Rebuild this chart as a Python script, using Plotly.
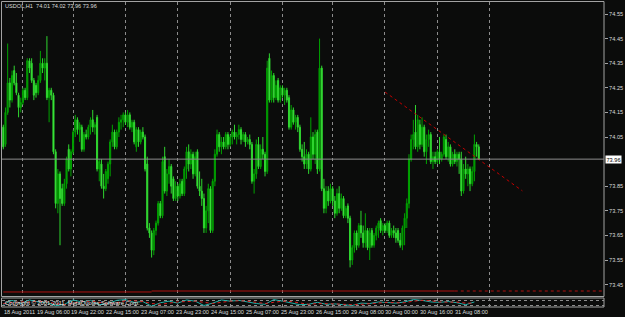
import plotly.graph_objects as go

W, H = 625, 317

title_text = "USDOL,H1  74.01 74.02 73.96 73.96"
copyright_text = "Copyright \u00a9 2001-2011, MetaQuotes Software Corp."

opens = [
    74.09, 74.02, 74.15, 74.27, 74.20, 74.32, 74.27, 74.22, 74.17, 74.19,
    74.24, 74.21, 74.36, 74.35, 74.28, 74.26, 74.23, 74.28, 74.35, 74.33,
    74.35, 74.21, 74.24, 74.22, 73.99, 73.78, 73.90, 73.84, 73.78, 73.86,
    74.00, 73.92, 73.99, 74.07, 74.12, 74.08, 74.09, 74.00, 74.06, 74.05,
    74.09, 74.12, 74.09, 74.13, 73.92, 73.94, 73.85, 73.84, 73.88, 73.94,
    74.03, 74.07, 74.01, 74.07, 74.11, 74.12, 74.14, 74.11, 74.14, 74.09,
    74.11, 74.01, 74.08, 74.03, 74.07, 74.05, 73.94, 73.68, 73.66, 73.59,
    73.67, 73.70, 73.78, 73.73, 73.97, 73.83, 73.90, 73.93, 73.88, 73.80,
    73.85, 73.81, 73.87, 73.82, 73.92, 73.99, 73.94, 73.98, 73.90, 73.99,
    73.85, 73.83, 73.80, 73.68, 73.75, 73.84, 73.67, 73.87, 73.98, 74.06,
    74.01, 74.03, 74.01, 74.06, 74.02, 74.05, 74.07, 74.05, 74.06, 74.08,
    74.04, 74.06, 74.03, 74.04, 74.02, 73.87, 73.90, 74.02, 73.93, 74.00,
    73.98, 73.91, 74.37, 74.20, 74.30, 74.21, 74.28, 74.20, 74.25, 74.22,
    74.24, 74.21, 74.09, 74.16, 74.11, 74.13, 74.09, 74.00, 73.97, 73.94,
    73.98, 73.92, 74.05, 73.98, 74.07, 73.92, 74.33, 73.84, 73.76, 73.83,
    73.79, 73.84, 73.79, 73.74, 73.82, 73.76, 73.80, 73.73, 73.77, 73.72,
    73.55, 73.60, 73.66, 73.61, 73.69, 73.66, 73.62, 73.67, 73.60, 73.67,
    73.61, 73.65, 73.68, 73.71, 73.67, 73.69, 73.67, 73.70, 73.65, 73.67,
    73.66, 73.67, 73.63, 73.61, 73.68, 73.72, 73.78, 73.96, 74.04, 74.07,
    74.01, 74.10, 74.02, 74.09, 73.99, 74.04, 74.06, 73.95, 73.97, 73.95,
    73.99, 73.96, 73.98, 74.04, 73.97, 74.01, 73.94, 73.98, 73.95, 73.98,
    73.96, 73.83, 73.92, 73.90, 73.92, 73.86, 73.91, 74.02, 74.01,
]
highs = [
    74.10, 74.17, 74.43, 74.29, 74.32, 74.34, 74.31, 74.23, 74.21, 74.25,
    74.25, 74.37, 74.37, 74.37, 74.29, 74.27, 74.30, 74.40, 74.37, 74.37,
    74.46, 74.25, 74.25, 74.23, 74.00, 73.92, 73.91, 73.86, 73.88, 73.97,
    74.02, 74.00, 74.08, 74.14, 74.13, 74.11, 74.10, 74.07, 74.08, 74.10,
    74.13, 74.16, 74.11, 74.14, 73.96, 73.96, 73.90, 73.92, 73.95, 74.04,
    74.10, 74.08, 74.08, 74.13, 74.14, 74.15, 74.15, 74.16, 74.15, 74.12,
    74.12, 74.09, 74.09, 74.08, 74.09, 74.06, 73.97, 73.70, 73.67, 73.68,
    73.71, 73.79, 73.79, 73.97, 74.01, 73.92, 73.96, 73.94, 73.89, 73.87,
    73.86, 73.88, 73.88, 73.93, 74.01, 74.02, 74.00, 73.99, 73.99, 74.00,
    73.91, 73.88, 73.82, 73.77, 73.86, 73.85, 73.88, 74.00, 74.08, 74.07,
    74.05, 74.05, 74.07, 74.07, 74.06, 74.08, 74.10, 74.07, 74.10, 74.09,
    74.07, 74.07, 74.05, 74.06, 74.03, 73.92, 74.04, 74.05, 74.02, 74.05,
    73.99, 74.36, 74.39, 74.32, 74.31, 74.28, 74.29, 74.26, 74.26, 74.25,
    74.25, 74.22, 74.18, 74.17, 74.14, 74.14, 74.10, 74.02, 74.03, 74.00,
    73.99, 74.13, 74.07, 74.08, 74.08, 74.45, 74.34, 73.88, 73.85, 73.85,
    73.86, 73.85, 73.81, 73.84, 73.85, 73.82, 73.81, 73.77, 73.78, 73.73,
    73.61, 73.67, 73.67, 73.70, 73.75, 73.69, 73.74, 73.68, 73.68, 73.68,
    73.66, 73.69, 73.71, 73.72, 73.70, 73.70, 73.71, 73.71, 73.68, 73.69,
    73.68, 73.68, 73.66, 73.69, 73.74, 73.80, 73.98, 74.06, 74.12, 74.18,
    74.14, 74.12, 74.13, 74.10, 74.06, 74.08, 74.07, 73.99, 73.99, 74.00,
    74.05, 73.99, 74.06, 74.06, 74.03, 74.02, 73.99, 74.00, 73.99, 73.99,
    73.99, 73.94, 73.97, 73.94, 73.93, 73.93, 74.06, 74.03, 74.02,
]
lows = [
    74.00, 74.01, 74.14, 74.17, 74.19, 74.26, 74.22, 74.13, 74.15, 74.18,
    74.20, 74.20, 74.31, 74.27, 74.20, 74.21, 74.22, 74.27, 74.31, 74.28,
    74.20, 74.11, 74.20, 73.98, 73.76, 73.74, 73.61, 73.77, 73.77, 73.84,
    73.91, 73.89, 73.98, 74.05, 74.06, 74.03, 73.99, 73.99, 74.04, 74.04,
    74.06, 74.07, 74.06, 73.91, 73.87, 73.84, 73.80, 73.83, 73.86, 73.89,
    74.01, 74.00, 74.00, 74.05, 74.08, 74.09, 74.10, 74.09, 74.08, 74.07,
    74.02, 73.99, 74.01, 74.02, 74.04, 73.91, 73.67, 73.64, 73.56, 73.57,
    73.65, 73.69, 73.72, 73.72, 73.82, 73.81, 73.86, 73.82, 73.79, 73.79,
    73.79, 73.80, 73.81, 73.81, 73.88, 73.91, 73.92, 73.88, 73.89, 73.84,
    73.81, 73.77, 73.66, 73.66, 73.70, 73.66, 73.66, 73.85, 73.97, 73.99,
    73.98, 74.00, 74.00, 74.00, 74.01, 74.02, 74.04, 74.02, 74.04, 74.02,
    74.03, 74.01, 74.02, 74.00, 73.86, 73.82, 73.88, 73.92, 73.92, 73.96,
    73.89, 73.90, 74.19, 74.19, 74.19, 74.20, 74.19, 74.19, 74.21, 74.18,
    74.19, 74.08, 74.08, 74.10, 74.08, 74.07, 73.99, 73.95, 73.92, 73.92,
    73.90, 73.91, 73.96, 73.94, 73.90, 73.91, 73.83, 73.74, 73.74, 73.77,
    73.78, 73.77, 73.72, 73.73, 73.74, 73.75, 73.72, 73.72, 73.70, 73.52,
    73.53, 73.58, 73.59, 73.60, 73.64, 73.60, 73.60, 73.59, 73.55, 73.60,
    73.60, 73.63, 73.64, 73.66, 73.65, 73.66, 73.66, 73.64, 73.64, 73.64,
    73.62, 73.62, 73.60, 73.59, 73.61, 73.68, 73.76, 73.95, 74.00, 74.00,
    73.99, 74.00, 74.01, 73.97, 73.94, 74.01, 73.94, 73.92, 73.94, 73.94,
    73.94, 73.95, 73.97, 73.96, 73.95, 73.93, 73.93, 73.94, 73.93, 73.90,
    73.81, 73.82, 73.88, 73.85, 73.83, 73.85, 73.87, 73.97, 73.96,
]
closes = [
    74.01, 74.15, 74.27, 74.20, 74.30, 74.27, 74.23, 74.17, 74.19, 74.24,
    74.21, 74.36, 74.33, 74.28, 74.22, 74.23, 74.28, 74.35, 74.33, 74.35,
    74.21, 74.24, 74.22, 73.99, 73.78, 73.90, 73.80, 73.78, 73.86, 73.96,
    73.92, 73.99, 74.07, 74.12, 74.08, 74.10, 74.00, 74.06, 74.05, 74.09,
    74.12, 74.09, 74.10, 73.92, 73.95, 73.85, 73.84, 73.91, 73.94, 74.03,
    74.07, 74.01, 74.07, 74.11, 74.12, 74.14, 74.11, 74.14, 74.09, 74.11,
    74.03, 74.08, 74.03, 74.07, 74.05, 73.92, 73.68, 73.66, 73.59, 73.67,
    73.70, 73.78, 73.73, 73.95, 73.83, 73.90, 73.93, 73.85, 73.80, 73.85,
    73.81, 73.86, 73.82, 73.92, 73.99, 73.94, 73.98, 73.90, 73.97, 73.85,
    73.83, 73.80, 73.68, 73.75, 73.84, 73.67, 73.87, 73.98, 74.06, 74.01,
    74.03, 74.01, 74.06, 74.02, 74.05, 74.07, 74.05, 74.06, 74.08, 74.04,
    74.06, 74.03, 74.04, 74.02, 73.87, 73.90, 74.02, 73.93, 74.00, 73.98,
    73.91, 74.33, 74.20, 74.30, 74.21, 74.26, 74.20, 74.25, 74.22, 74.24,
    74.20, 74.09, 74.16, 74.11, 74.13, 74.09, 74.00, 73.97, 73.94, 73.98,
    73.92, 74.05, 73.98, 74.06, 73.92, 74.33, 73.84, 73.76, 73.83, 73.79,
    73.84, 73.79, 73.74, 73.82, 73.76, 73.80, 73.73, 73.76, 73.72, 73.55,
    73.60, 73.66, 73.61, 73.69, 73.66, 73.62, 73.67, 73.60, 73.66, 73.61,
    73.65, 73.68, 73.70, 73.67, 73.69, 73.67, 73.70, 73.65, 73.67, 73.66,
    73.64, 73.63, 73.61, 73.68, 73.72, 73.78, 73.96, 74.04, 74.06, 74.01,
    74.12, 74.02, 74.09, 73.99, 74.04, 74.06, 73.95, 73.97, 73.95, 73.99,
    73.96, 73.98, 74.05, 73.97, 74.01, 73.94, 73.98, 73.95, 73.98, 73.96,
    73.83, 73.92, 73.90, 73.92, 73.86, 73.91, 74.02, 74.01, 73.96,
]
bars = list(range(len(closes)))

time_labels = ["18 Aug 2011", "19 Aug 06:00", "19 Aug 22:00", "22 Aug 15:00",
               "23 Aug 07:00", "23 Aug 23:00", "24 Aug 15:00", "25 Aug 07:00",
               "25 Aug 23:00", "26 Aug 15:00", "29 Aug 08:00", "30 Aug 00:00",
               "30 Aug 16:00", "31 Aug 08:00"]
time_label_bars = [0, 15, 31, 47, 63, 79, 95, 111, 127, 143, 159, 175, 191, 207]
day_start_bars = [9, 32, 56, 80, 104, 128, 151, 175, 199, 223]

price_ticks = [73.45, 73.55, 73.65, 73.75, 73.85, 74.05, 74.15, 74.25, 74.35, 74.45, 74.55]
bid_price = 73.96

trend_bars = [175, 238]
trend_prices = [74.233, 73.831]

level_bars = [0, 68, 207, 276]
level_prices = [73.420, 73.424]

stoch_bars = list(range(0, 219, 4))
stoch_main = [30, 80, 40, 85, 60, 55, 10, 30, 85, 60, 80, 25, 40, 80, 90,
              55, 65, 5, 50, 70, 45, 85, 70, 15, 45, 85, 70, 80, 60, 40,
              30, 90, 70, 45, 25, 30, 55, 30, 35, 25, 15, 45, 40, 60, 55,
              45, 60, 90, 80, 60, 55, 65, 50, 25, 60]
stoch_signal = [40, 55, 60, 60, 70, 60, 40, 25, 45, 65, 70, 55, 40, 50, 75,
                75, 65, 40, 30, 45, 60, 65, 70, 55, 40, 55, 70, 75, 70, 55,
                40, 55, 70, 65, 45, 30, 40, 40, 35, 30, 25, 30, 40, 50, 55,
                50, 50, 70, 80, 75, 60, 58, 58, 45, 45]
stoch_levels = [20, 80]

# ---------- geometry helpers (pixel -> paper / price) ----------
def py(pix):
    return 1 - pix / H

def px(pix):
    return pix / W

P_TOP_PIX, P_REF_PIX, P_REF, PPX = 1.5, 14.0, 74.55, 246.0
def price_at(pix):
    return P_REF - (pix - P_REF_PIX) / PPX

X0_PIX, BAR_PIX = 3.3, 2.181
def bar_at(pix):
    return (pix - X0_PIX) / BAR_PIX

BG = "#0b0c0b"
FRAME = "#a3a3a3"
GRID = "#8c8c8c"
TXT = "#dcdcdc"
FONT = "Liberation Sans, Arial, sans-serif"

fig = go.Figure()

fig.add_trace(go.Candlestick(
    x=bars, open=opens, high=highs, low=lows, close=closes,
    increasing=dict(line=dict(color="#00a300", width=1), fillcolor="#008a00"),
    decreasing=dict(line=dict(color="#2fd62f", width=1), fillcolor="#4dff4d"),
    whiskerwidth=0, hoverinfo="skip", xaxis="x", yaxis="y",
))

# trend line
fig.add_trace(go.Scatter(x=trend_bars, y=trend_prices, mode="lines",
                         line=dict(color="#c00000", width=1, dash="dot"),
                         hoverinfo="skip", xaxis="x", yaxis="y"))
# bottom red level line
fig.add_trace(go.Scatter(x=level_bars[0:2], y=[level_prices[0]] * 2, mode="lines",
                         line=dict(color="#b01010", width=1), hoverinfo="skip"))
fig.add_trace(go.Scatter(x=level_bars[1:3], y=[level_prices[1]] * 2, mode="lines",
                         line=dict(color="#b01010", width=1), hoverinfo="skip"))
fig.add_trace(go.Scatter(x=level_bars[2:4], y=[level_prices[1]] * 2, mode="lines",
                         line=dict(color="#b01010", width=1, dash="dot"), hoverinfo="skip"))

# stochastic sub window
fig.add_trace(go.Scatter(x=stoch_bars, y=stoch_main, mode="lines",
                         line=dict(color="#20b2aa", width=1), hoverinfo="skip",
                         xaxis="x2", yaxis="y2"))
fig.add_trace(go.Scatter(x=stoch_bars, y=stoch_signal, mode="lines",
                         line=dict(color="#e02020", width=1, dash="dot"), hoverinfo="skip",
                         xaxis="x2", yaxis="y2"))

xr = [bar_at(2), bar_at(604)]
yr = [price_at(296.5), price_at(P_TOP_PIX)]

fig.update_layout(
    width=W, height=H, margin=dict(l=0, r=0, t=0, b=0),
    paper_bgcolor=BG, plot_bgcolor=BG, showlegend=False,
    font=dict(family=FONT, size=6, color=TXT),
    xaxis=dict(domain=[px(2), px(604)], range=xr, anchor="y",
               tickvals=day_start_bars, showticklabels=False, ticks="",
               showgrid=True, gridcolor=GRID, griddash="dot", gridwidth=1,
               zeroline=False, showline=False, rangeslider=dict(visible=False),
               fixedrange=True),
    yaxis=dict(domain=[py(296.5), py(P_TOP_PIX)], range=yr, anchor="x", side="right",
               tickvals=price_ticks, ticktext=[f"{v:.2f}" for v in price_ticks],
               ticks="outside", ticklen=3, tickcolor=FRAME, tickwidth=1,
               tickfont=dict(size=5.6, color=TXT, family=FONT),
               showgrid=False, zeroline=False, showline=False, fixedrange=True),
    xaxis2=dict(domain=[px(2), px(604)], range=xr, anchor="y2",
                tickvals=day_start_bars, showticklabels=False, ticks="",
                showgrid=True, gridcolor=GRID, griddash="dot",
                zeroline=False, showline=False, fixedrange=True),
    xaxis3=dict(domain=[px(2), px(604)], range=xr, anchor="y2", overlaying="x2",
                tickvals=time_label_bars, showticklabels=False, ticks="outside",
                ticklen=2, tickcolor=FRAME, showgrid=False, zeroline=False,
                showline=False, fixedrange=True),
    yaxis2=dict(domain=[py(307), py(298)], range=[-4, 110], anchor="x2",
                tickvals=stoch_levels, showticklabels=False, ticks="",
                showgrid=True, gridcolor=GRID, griddash="dot",
                zeroline=False, showline=False, fixedrange=True),
)

shapes = [
    dict(type="rect", xref="paper", yref="paper", x0=px(1.5), x1=px(604),
         y0=py(296.5), y1=py(P_TOP_PIX), line=dict(color=FRAME, width=1)),
    dict(type="rect", xref="paper", yref="paper", x0=px(1.5), x1=px(604),
         y0=py(307), y1=py(298), line=dict(color=FRAME, width=1)),
    dict(type="line", xref="x domain", yref="y", x0=0, x1=1, y0=bid_price, y1=bid_price,
         line=dict(color="#8e8e8e", width=1)),
]
fig.update_layout(shapes=shapes)

ann = [
    dict(text=title_text, xref="paper", yref="paper", x=px(3), y=py(6),
         xanchor="left", yanchor="middle", showarrow=False,
         font=dict(size=5.6, color=TXT, family=FONT)),
    dict(text=copyright_text, xref="paper", yref="paper", x=px(3), y=py(302.5),
         xanchor="left", yanchor="middle", showarrow=False,
         font=dict(size=5.8, color="#f0f0f0", family=FONT)),
    dict(text=f"{bid_price:.2f}", xref="x domain", yref="y", x=1, y=bid_price,
         xanchor="left", yanchor="middle", xshift=1, showarrow=False,
         bgcolor="#ffffff", borderpad=0.5,
         font=dict(size=5.6, color="#000000", family=FONT)),
]
for lbl, b in zip(time_labels, time_label_bars):
    ann.append(dict(text=lbl, xref="x", yref="paper", x=b, y=py(311.5),
                    xanchor="left", yanchor="middle", xshift=-1.5, showarrow=False,
                    font=dict(size=5.6, color=TXT, family=FONT)))
fig.update_layout(annotations=ann)

fig.write_html("out.html")
